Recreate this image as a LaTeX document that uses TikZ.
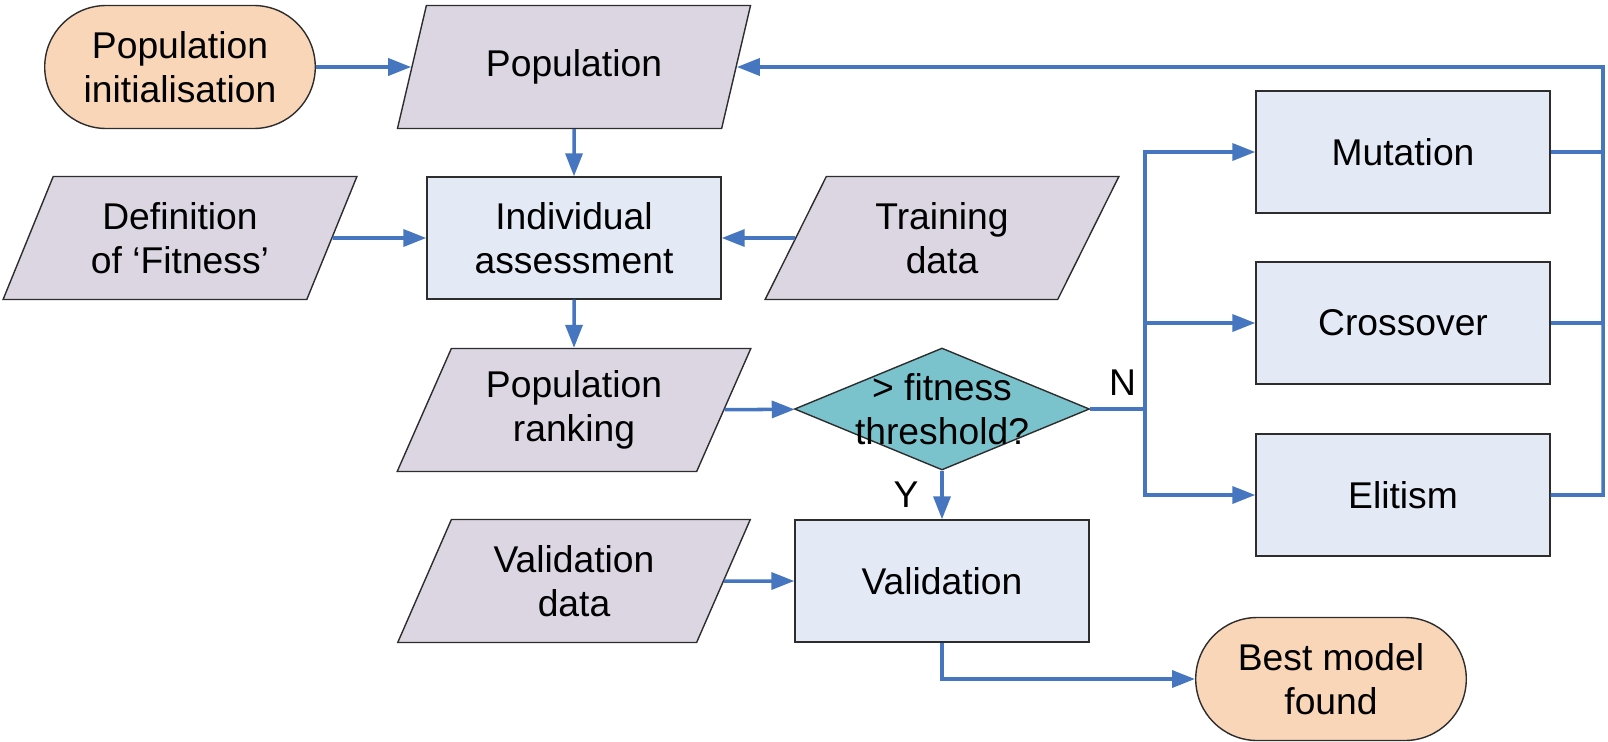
\documentclass[tikz,border=0pt]{standalone}
\usepackage{fontspec}
\setmainfont{Liberation Sans}
\usetikzlibrary{shapes.geometric,shapes.misc,arrows.meta}

\definecolor{termfill}{RGB}{250,214,184}
\definecolor{datafill}{RGB}{220,214,227}
\definecolor{procfill}{RGB}{228,234,245}
\definecolor{testfill}{RGB}{122,195,205}
\definecolor{flowblue}{RGB}{70,118,192}
\definecolor{edgegray}{RGB}{45,45,45}

\begin{document}
\begin{tikzpicture}[
  font=\fontsize{10.6}{12.4}\selectfont,
  terminal/.style={rounded rectangle, draw=edgegray, fill=termfill, minimum width=2.94cm, minimum height=1.23cm, align=center},
  data/.style={trapezium, trapezium left angle=63.6, trapezium right angle=116.4, trapezium stretches=true, draw=edgegray, fill=datafill, minimum width=3.55cm, minimum height=1.23cm, inner sep=0pt, align=center},
  process/.style={rectangle, draw=edgegray, fill=procfill, minimum width=2.94cm, minimum height=1.22cm, align=center},
  decision/.style={diamond, draw=edgegray, fill=testfill, minimum width=2.95cm, minimum height=1.22cm, inner sep=0pt},
  flowline/.style={draw=flowblue, line width=1pt},
  flowarrow/.style={flowline, -{Triangle[length=0.23cm,width=0.17cm]}}
]
\useasboundingbox (0,0) rectangle (16.08,7.41);

% main column
\node [terminal] (init) at (1.80,6.74) {Population\\initialisation};
\node [data] (pop) at (5.74,6.74) {Population};
\node [data] (fitdef) at (1.80,5.03) {Definition\\of `Fitness'};
\node [process] (assess) at (5.74,5.03) {Individual\\assessment};
\node [data] (train) at (9.42,5.03) {Training\\data};
\node [data] (rank) at (5.74,3.31) {Population\\ranking};
\node [decision, label={[align=center]center:{> fitness\\threshold?}}] (test) at (9.42,3.32) {};
\node [data] (valdata) at (5.74,1.60) {Validation\\data};
\node [process] (valid) at (9.42,1.60) {Validation};
\node [terminal] (best) at (13.31,0.62) {Best model\\found};

% genetic operators
\node [process] (mut) at (14.03,5.89) {Mutation};
\node [process] (cross) at (14.03,4.18) {Crossover};
\node [process] (elit) at (14.03,2.46) {Elitism};

\coordinate (split) at (11.45,3.32);
\coordinate (back) at (16.03,6.74);

\draw [flowarrow] (init) -- (pop);
\draw [flowarrow] (pop) -- (assess);
\draw [flowarrow] (fitdef) -- (assess);
\draw [flowarrow] (train) -- (assess);
\draw [flowarrow] (assess) -- (rank);
\draw [flowarrow] (rank) -- (test);
\draw [flowarrow] (test) -- node [left, xshift=-0.1cm] {Y} (valid);
\draw [flowarrow] (valdata) -- (valid);
\draw [flowarrow] (valid) |- (best);

\draw [flowline] (test) -- node [above, xshift=0.05cm] {N} (split);
\draw [flowarrow] (split) |- (mut);
\draw [flowarrow] (split) |- (cross);
\draw [flowarrow] (split) |- (elit);

% loop back
\draw [flowline] (mut) -| (back);
\draw [flowline] (cross) -| (back);
\draw [flowarrow] (elit) -| (back) -- (pop);
\end{tikzpicture}
\end{document}
